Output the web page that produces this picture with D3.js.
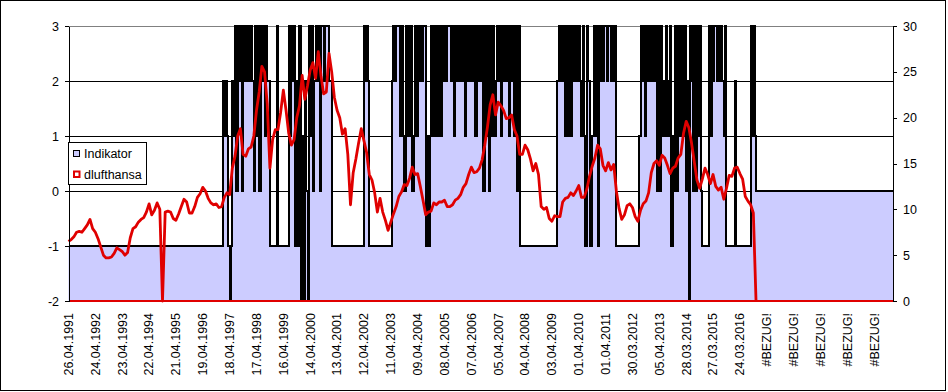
<!DOCTYPE html>
<html>
<head>
<meta charset="utf-8">
<script src="https://cdn.jsdelivr.net/npm/d3@7"></script>
<style>
  body { margin: 0; background: #fff; }
  text { font-family: "Liberation Sans", Arial, sans-serif; font-size: 12.5px; fill: #000; }
</style>
</head>
<body>
<script>
// category labels (one per year, then the broken refs at the end)
var xLabels = ["26.04.1991", "24.04.1992", "23.04.1993", "22.04.1994", "21.04.1995",
    "19.04.1996", "18.04.1997", "17.04.1998", "16.04.1999", "14.04.2000", "13.04.2001",
    "12.04.2002", "11.04.2003", "09.04.2004", "08.04.2005", "07.04.2006", "05.04.2007",
    "04.04.2008", "03.04.2009", "01.04.2010", "01.04.2011", "30.03.2012", "05.04.2013",
    "28.03.2014", "27.03.2015", "24.03.2016", "#BEZUG!", "#BEZUG!", "#BEZUG!", "#BEZUG!", "#BEZUG!"];

var leftTicks = [-2, -1, 0, 1, 2, 3];
var rightTicks = [0, 5, 10, 15, 20, 25, 30];

// dlufthansa (right axis), one value every 0.1 label step
var dlufthansa = [
    6.5, 6.7, 7.0, 7.5, 7.6, 7.5, 7.9, 8.3, 8.9, 7.9,
    7.5, 6.8, 5.9, 5.0, 4.7, 4.7, 4.8, 5.2, 5.8, 5.6,
    5.4, 5.0, 5.3, 6.9, 7.9, 8.1, 8.6, 8.9, 9.1, 9.7,
    10.6, 9.4, 9.9, 10.7, 10.0, 0, 9.7, 9.8, 9.7, 9.0,
    8.8, 9.5, 10.3, 11.1, 10.8, 9.6, 9.6, 10.3, 11.3, 11.7,
    12.4, 12.0, 11.2, 10.7, 10.5, 10.6, 10.2, 10.3, 11.3, 11.8,
    11.6, 14.5, 15.8, 18.0, 18.8, 16.0, 15.8, 16.6, 16.8, 18.0,
    20.8, 22.8, 25.6, 25.0, 21.5, 14.5, 17.6, 18.7, 18.7, 20.6,
    23.0, 20.8, 18.3, 17.0, 17.6, 20.0, 21.3, 24.6, 22.0, 23.5,
    25.2, 26.0, 24.3, 27.2, 24.6, 22.6, 22.8, 27.0, 25.0, 22.2,
    20.8, 20.0, 18.2, 18.8, 16.0, 10.5, 14.0, 15.5, 17.2, 18.8,
    17.5, 16.2, 13.8, 13.2, 11.8, 9.7, 11.2, 9.7, 8.8, 7.7,
    8.6, 9.5, 10.3, 11.4, 11.9, 12.7, 12.6, 13.4, 14.6, 13.8,
    13.9, 12.5, 11.0, 9.4, 9.7, 9.8, 10.7, 10.5, 10.8, 10.8,
    11.0, 10.3, 10.3, 10.5, 11.0, 11.2, 11.6, 12.4, 12.8, 13.8,
    14.6, 14.0, 14.1, 14.5, 15.4, 17.0, 19.0, 21.4, 22.5, 20.3,
    21.7, 21.3, 20.8, 19.9, 20.0, 20.3, 18.7, 18.0, 16.0, 16.0,
    17.0, 16.5, 15.5, 14.2, 15.0, 13.8, 10.3, 10.0, 10.2, 9.0,
    8.7, 9.3, 9.2, 9.2, 10.8, 11.2, 11.3, 11.8, 11.5, 12.0,
    12.6, 11.3, 11.3, 12.2, 13.6, 14.7, 15.6, 17.0, 16.6, 14.8,
    14.2, 15.1, 14.3, 14.9, 12.0, 10.1, 8.9, 9.4, 10.4, 10.6,
    10.2, 9.2, 8.7, 9.9, 10.6, 10.9, 11.8, 14.0, 15.0, 15.3,
    14.8, 15.9, 15.6, 14.8, 13.9, 14.5, 14.7, 15.6, 16.0, 18.3,
    19.6, 18.9, 17.2, 15.2, 13.2, 12.3, 13.3, 14.5, 13.8, 12.8,
    13.8, 12.5, 12.1, 12.4, 11.1, 12.3, 13.7, 13.6, 14.5, 14.6,
    13.9, 13.3, 11.4, 10.9, 10.5, 9.6, 0
];

// Indikator (left axis) as runs of [level, samples], one sample every 0.05 label step
var indikatorRuns = [
    [-1, 115],
    [2, 1], [1, 1], [2, 1], [1, 1], [-1, 1], [-2, 1], [-1, 1], [2, 1], [1, 1],
    [3, 1], [0, 1], [3, 1], [2, 1], [3, 1], [0, 1], [2, 1], [3, 1], [2, 2], [3, 1], [2, 1], [3, 1], [2, 1],
    [0, 1], [3, 1], [1, 1], [3, 1], [0, 1], [3, 1], [2, 1], [3, 1], [1, 1], [3, 1], [2, 2],
    [-1, 5], [3, 1], [-1, 8],
    [3, 1], [1, 1], [3, 1], [2, 1], [3, 1], [-1, 1], [2, 1], [-1, 1], [3, 1], [-2, 1], [1, 1], [-2, 1],
    [2, 1], [0, 1], [-2, 1], [3, 1], [1, 1], [3, 1], [0, 1], [2, 1], [3, 1], [2, 1], [3, 1], [0, 1],
    [3, 2], [2, 1], [3, 3], [2, 2],
    [-1, 24],
    [3, 1], [2, 1], [3, 1], [2, 1],
    [-1, 17],
    [2, 1], [3, 1], [2, 1], [3, 3], [1, 1], [3, 1], [1, 1], [0, 1], [3, 1], [1, 1], [3, 1], [1, 1],
    [3, 1], [0, 1], [1, 1], [3, 1], [1, 1], [3, 1], [2, 1],
    [3, 1], [2, 1], [3, 2], [-1, 1], [1, 1], [-1, 1], [1, 1],
    [3, 1], [1, 1], [3, 1], [1, 1], [3, 1], [1, 1], [3, 1], [1, 1],
    [3, 1], [2, 1], [3, 1], [2, 1], [3, 2],
    [3, 1], [2, 1], [3, 1], [1, 1], [3, 1], [2, 1],
    [3, 1], [2, 1], [3, 1], [2, 1], [3, 1], [1, 1], [3, 1],
    [2, 1], [3, 1], [2, 1], [3, 1], [2, 1], [3, 1], [1, 1], [3, 1],
    [3, 1], [2, 1], [3, 2], [0, 1], [3, 1],
    [1, 1], [3, 1], [0, 1], [3, 1], [1, 1], [3, 1], [1, 1],
    [2, 1], [3, 1], [2, 1], [3, 1], [1, 1], [3, 1], [2, 1],
    [3, 1], [2, 1], [3, 1], [1, 1], [3, 1], [2, 1], [3, 1],
    [1, 1], [3, 1], [0, 1], [3, 1],
    [-1, 28],
    [2, 1], [3, 2], [2, 1], [3, 2], [1, 1], [3, 1],
    [1, 1], [3, 1], [1, 1],
    [2, 1], [3, 1], [2, 1], [3, 1], [2, 1], [3, 1], [2, 1],
    [1, 1], [3, 1], [1, 1], [-1, 1], [3, 1], [2, 1], [-1, 2],
    [1, 1], [3, 1], [1, 1], [3, 1], [-1, 1], [3, 1],
    [2, 1], [3, 1], [2, 1], [3, 2], [2, 1], [3, 2], [2, 1], [3, 1], [2, 1], [3, 1],
    [-1, 17],
    [1, 1], [3, 1], [2, 1], [3, 1], [1, 1], [3, 1], [2, 1], [3, 2], [2, 1], [3, 1], [2, 1], [3, 1],
    [0, 1], [3, 1], [0, 1],
    [3, 1], [2, 1], [1, 1], [2, 1], [3, 1], [1, 1], [2, 1],
    [3, 1], [-1, 1],
    [1, 1], [0, 1], [3, 1], [0, 1], [1, 1], [3, 1], [1, 1], [3, 1], [1, 1], [3, 1],
    [0, 1], [2, 1], [-2, 1],
    [3, 1], [2, 1], [0, 1], [3, 1], [0, 1], [3, 1], [1, 1], [3, 1], [0, 1],
    [-1, 5],
    [3, 1], [1, 1], [3, 1], [2, 1], [3, 2], [2, 1], [3, 1], [2, 1],
    [3, 1], [2, 1], [1, 1], [3, 1],
    [-1, 6], [2, 1], [-1, 11],
    [3, 1], [1, 1], [3, 1], [1, 1],
    [0, 103]
];

var width = 948;
var height = 392;

var svg = d3.select("body").append("svg")
    .attr("width", width)
    .attr("height", height);

var x = d3.scaleLinear().domain([0, 30.7]).range([68.5, 893]);
var yL = d3.scaleLinear().domain([-2, 3]).range([301, 26]);
var yR = d3.scaleLinear().domain([0, 30]).range([301, 26]);

// chart border
svg.append("rect")
    .attr("x", 0.5).attr("y", 0.5)
    .attr("width", 945).attr("height", 390)
    .attr("fill", "#fff").attr("stroke", "#000")
    .attr("shape-rendering", "crispEdges");

// gridlines (behind the area)
svg.append("g").selectAll("line")
    .data(leftTicks.filter(d => d > -2))
    .enter().append("line")
        .attr("x1", 69).attr("x2", 893)
        .attr("y1", d => yL(d)).attr("y2", d => yL(d))
        .attr("stroke", d => d == 3 ? "#808080" : "#000")
        .attr("shape-rendering", "crispEdges");

// expand the Indikator runs into samples
var ind = [];
var j = 0;
indikatorRuns.forEach(function (r) {
    for (var k = 0; k < r[1]; k++) {
        ind.push({ t: j * 0.05, v: r[0] });
        j++;
    }
});

svg.append("path")
    .datum(ind)
    .attr("fill", "#ccccff")
    .attr("d", d3.area()
        .x(d => x(d.t))
        .y0(yL(-2))
        .y1(d => yL(d.v))
        .curve(d3.curveStepAfter));

svg.append("path")
    .datum(ind)
    .attr("fill", "none")
    .attr("stroke", "#000")
    .attr("stroke-width", 2)
    .attr("shape-rendering", "crispEdges")
    .attr("d", d3.line()
        .x(d => x(d.t))
        .y(d => yL(d.v))
        .curve(d3.curveStepAfter));

// dlufthansa line
var dl = dlufthansa.map((v, i) => ({ t: i * 0.1, v: v }));
svg.append("path")
    .datum(dl)
    .attr("fill", "none")
    .attr("stroke", "#e00000")
    .attr("stroke-width", 2.8)
    .attr("stroke-linejoin", "round")
    .attr("d", d3.line().x(d => x(d.t)).y(d => yR(d.v)));

svg.append("line")
    .attr("x1", 69).attr("x2", 893)
    .attr("y1", yR(0)).attr("y2", yR(0))
    .attr("stroke", "#e00000").attr("stroke-width", 2);

// axes
var gl = svg.append("g")
    .attr("transform", "translate(69,0)")
    .call(d3.axisLeft(yL).tickValues(leftTicks).tickSize(4).tickSizeOuter(0).tickPadding(6).tickFormat(d => String(d)));
var gr = svg.append("g")
    .attr("transform", "translate(893,0)")
    .call(d3.axisRight(yR).tickValues(rightTicks).tickSize(4).tickSizeOuter(0).tickPadding(6).tickFormat(d => String(d)));
[gl, gr].forEach(function (g) {
    g.selectAll("path, line").attr("stroke", "#000").attr("shape-rendering", "crispEdges");
    g.selectAll("text").attr("fill", "#000");
});

// x labels, rotated
svg.append("g").selectAll("text")
    .data(xLabels)
    .enter().append("text")
        .attr("transform", (d, k) => "translate(" + x(k) + ",313) rotate(-90)")
        .attr("text-anchor", "end")
        .attr("dy", "0.35em")
        .text(d => d);

// legend
var lg = svg.append("g");
lg.append("rect")
    .attr("x", 68.5).attr("y", 142.5).attr("width", 78).attr("height", 42)
    .attr("fill", "#fff").attr("stroke", "#000")
    .attr("shape-rendering", "crispEdges");
lg.append("rect")
    .attr("x", 73.5).attr("y", 150.5).attr("width", 6).attr("height", 6)
    .attr("fill", "#ccccff").attr("stroke", "#000")
    .attr("shape-rendering", "crispEdges");
lg.append("rect")
    .attr("x", 74).attr("y", 171.5).attr("width", 5.5).attr("height", 5.5)
    .attr("fill", "#fff").attr("stroke", "#e00000").attr("stroke-width", 2);
lg.append("text").attr("x", 84).attr("y", 154).attr("dy", "0.35em").text("Indikator");
lg.append("text").attr("x", 84).attr("y", 174.5).attr("dy", "0.35em").text("dlufthansa");
</script>
</body>
</html>
